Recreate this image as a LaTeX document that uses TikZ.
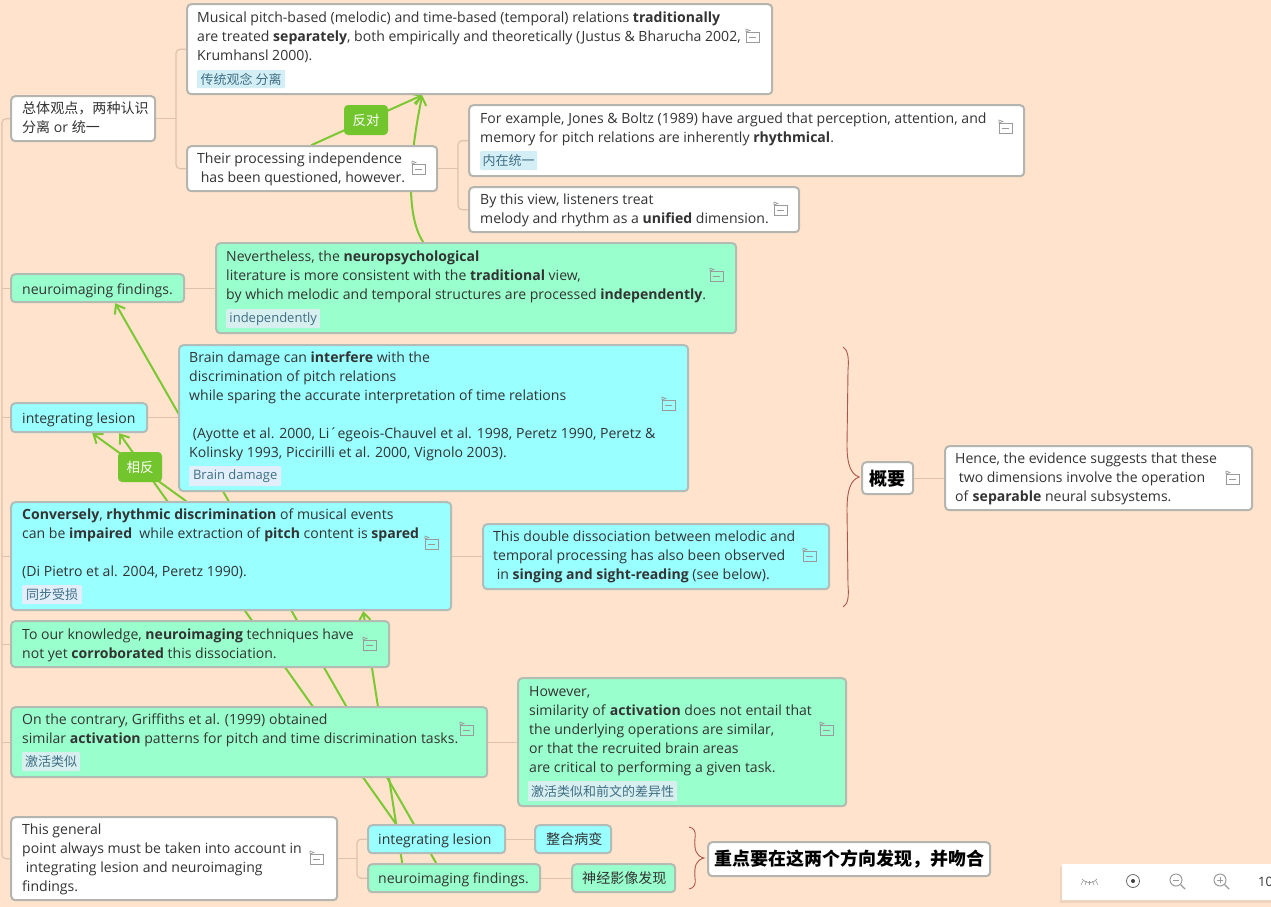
\documentclass[tikz,border=0pt]{standalone}
\usepackage{fontspec}
\setmainfont{Open Sans}
\newfontfamily\cjk{Noto Sans CJK SC}
\usetikzlibrary{backgrounds,arrows.meta,calc}
\definecolor{pagebg}{HTML}{FFE3CC}
\definecolor{wbox}{HTML}{FFFFFF}
\definecolor{gbox}{HTML}{99FFCC}
\definecolor{cbox}{HTML}{99FFFF}
\definecolor{edge}{HTML}{B5B5B0}
\definecolor{branchc}{HTML}{DDC3AF}
\definecolor{rel}{HTML}{7CC832}
\definecolor{relfill}{HTML}{72C52C}
\definecolor{ink}{HTML}{333333}
\definecolor{tagink}{HTML}{3F6F85}
\definecolor{tagw}{HTML}{D3EEF5}
\definecolor{tagg}{HTML}{D8EFEF}
\definecolor{tagc}{HTML}{E2EEFA}
\definecolor{bracec}{HTML}{A9584C}
\definecolor{icong}{HTML}{9A9A9A}
\newcommand\zh[1]{{\cjk #1}}
\tikzset{
  basebox/.style={draw=edge,line width=2pt,rounded corners=4pt,inner sep=0pt,anchor=north west},
  wnode/.style={basebox,fill=wbox},
  gnode/.style={basebox,fill=gbox,draw=edge!90!gbox},
  cnode/.style={basebox,fill=cbox,draw=edge!90!cbox},
  txt/.style={anchor=north west,inner sep=0pt,align=left,text=ink,font=\fontsize{14.05}{19}\selectfont},
  tagbox/.style={inner sep=0pt,anchor=north west,rounded corners=1pt,text=tagink,font=\fontsize{13}{16}\selectfont},
  relnode/.style={fill=relfill,rounded corners=4pt,inner sep=0pt,text=white,font=\fontsize{13.5}{16}\selectfont,minimum width=44pt,minimum height=30pt},
  branch/.style={draw=branchc,line width=1.2pt,rounded corners=4pt},
  relline/.style={draw=rel,line width=2pt},
  relarrow/.style={relline,-{Straight Barb[length=8pt,width=12pt,line width=2pt]}},
  bracepath/.style={draw=bracec,line width=0.9pt},
  noteicon/.pic={
    \draw[icong,line width=.6pt] (-6,-3) rectangle (7,7);
    \draw[icong,line width=.6pt] (-6,-3) -- (-6,-6) -- (-2,-4.5) -- (-6,-3);
    \draw[icong,line width=.7pt] (-3,2) -- (4,2);
  }
}
\newcommand\mbx[6]{%
  \pgfmathsetmacro\mw{#4-#2}\pgfmathsetmacro\mh{#5-#3}%
  \node[#6,minimum width=\mw pt,minimum height=\mh pt] (#1) at (#2-.8,#3-.8) {};}
\newcommand\tx[4]{\node[txt] (#1) at (#2,#3-8.5) {\strut #4};}
\newcommand\tg[7]{%
  \pgfmathsetmacro\mw{#4-#2}\pgfmathsetmacro\mh{#5-#3}%
  \node[tagbox,fill=#6,minimum width=\mw pt,minimum height=\mh pt] (#1) at (#2,#3) {#7};}
\begin{document}
\begin{tikzpicture}[x=1pt,y=-1pt]
\useasboundingbox (0,0) rectangle (1271,907);

% ---------- boxes ----------
\mbx{A}{187}{4}{772}{94}{wnode}
\tx{At}{197}{17}{Musical pitch-based (melodic) and time-based (temporal) relations \textbf{traditionally}\\ \strut are treated \textbf{separately}, both empirically and theoretically (Justus \& Bharucha 2002,\\ \strut Krumhansl 2000).}
\tg{Atag}{197}{70}{285}{88}{tagw}{\zh{传统观念 分离}}
\pic at (752,35) {noteicon};

\mbx{B}{11}{96}{155}{141}{wnode}
\tx{Bt}{22}{108}{\zh{总体观点，两种认识}\\ \strut \zh{分离} or \zh{统一}}

\mbx{C}{187}{146}{437}{191}{wnode}
\tx{Ct}{197}{158}{Their processing independence\\ \strut\ has been questioned, however.}
\pic at (418,167) {noteicon};

\mbx{D}{469}{105}{1024}{176}{wnode}
\tx{Dt}{480}{118}{For example, Jones \& Boltz (1989) have argued that perception, attention, and\\ \strut memory for pitch relations are inherently \textbf{rhythmical}.}
\tg{Dtag}{480}{151}{537}{170}{tagw}{\zh{内在统一}}
\pic at (1005,126) {noteicon};

\mbx{E}{469}{187}{799}{232}{wnode}
\tx{Et}{480}{199}{By this view, listeners treat\\ \strut melody and rhythm as a \textbf{unified} dimension.}
\pic at (780,208) {noteicon};

\mbx{F}{216}{243}{736}{333}{gnode}
\tx{Ft}{226}{256}{Nevertheless, the \textbf{neuropsychological}\\ \strut literature is more consistent with the \textbf{traditional} view,\\ \strut by which melodic and temporal structures are processed \textbf{independently}.}
\tg{Ftag}{226}{309}{320}{328}{tagg}{independently}
\pic at (716,274) {noteicon};

\mbx{G}{11}{274}{184}{302}{gnode}
\tx{Gt}{22}{289}{neuroimaging findings.}

\mbx{H}{179}{345}{688}{491}{cnode}
\tx{Ht}{189}{357}{Brain damage can \textbf{interfere} with the\\ \strut discrimination of pitch relations\\ \strut while sparing the accurate interpretation of time relations\\ \strut\\ \strut\ (Ayotte et al. 2000, Li´egeois-Chauvel et al. 1998, Peretz 1990, Peretz \&\\ \strut Kolinsky 1993, Piccirilli et al. 2000, Vignolo 2003).}
\tg{Htag}{189}{466}{281}{486}{tagc}{Brain damage}
\pic at (668,403) {noteicon};

\mbx{I}{11}{403}{147}{432}{cnode}
\tx{It}{22}{418}{integrating lesion}

\mbx{J}{11}{502}{451}{610}{cnode}
\tx{Jt}{22}{514}{\textbf{Conversely}, \textbf{rhythmic discrimination} of musical events\\ \strut can be \textbf{impaired}\ \ while extraction of \textbf{pitch} content is \textbf{spared}\\ \strut\\ \strut (Di Pietro et al. 2004, Peretz 1990).}
\tg{Jtag}{22}{585}{82}{604}{tagc}{\zh{同步受损}}
\pic at (431,542) {noteicon};

\mbx{K}{483}{524}{829}{589}{cnode}
\tx{Kt}{493}{536}{This double dissociation between melodic and\\ \strut temporal processing has also been observed\\ \strut\ in \textbf{singing and sight-reading} (see below).}
\pic at (809,554) {noteicon};

\mbx{L}{11}{621}{389}{667}{gnode}
\tx{Lt}{22}{634}{To our knowledge, \textbf{neuroimaging} techniques have\\ \strut not yet \textbf{corroborated} this dissociation.}
\pic at (369,643) {noteicon};

\mbx{M}{11}{707}{487}{777}{gnode}
\tx{Mt}{22}{719}{On the contrary, Griffiths et al. (1999) obtained\\ \strut similar \textbf{activation} patterns for pitch and time discrimination tasks.}
\tg{Mtag}{22}{752}{80}{771}{tagg}{\zh{激活类似}}
\pic at (466,728) {noteicon};

\mbx{N}{518}{678}{846}{806}{gnode}
\tx{Nt}{529}{691}{However,\\ \strut similarity of \textbf{activation} does not entail that\\ \strut the underlying operations are similar,\\ \strut or that the recruited brain areas\\ \strut are critical to performing a given task.}
\tg{Ntag}{528}{781}{677}{801}{tagg}{\zh{激活类似和前文的差异性}}
\pic at (826,728) {noteicon};

\mbx{O}{11}{817}{337}{900}{wnode}
\tx{Ot}{22}{829}{This general\\ \strut point always must be taken into account in\\ \strut\ integrating lesion and neuroimaging\\ \strut findings.}
\pic at (316,857) {noteicon};

\mbx{P}{368}{825}{505}{853}{cnode}
\tx{Pt}{378}{839}{integrating lesion}
\mbx{Q}{535}{825}{611}{853}{cnode}
\tx{Qt}{546}{839}{\zh{整合病变}}
\mbx{R}{368}{864}{540}{892}{gnode}
\tx{Rt}{378}{878}{neuroimaging findings.}
\mbx{S}{572}{864}{675}{892}{gnode}
\tx{St}{582}{878}{\zh{神经影像发现}}

\mbx{T}{708}{842}{990}{876}{wnode}
\node[anchor=center,inner sep=0pt,text=black,font=\fontsize{18}{22}\selectfont\cjk\bfseries] (Tt) at (T.center) {重点要在这两个方向发现，并吻合};
\mbx{U}{862}{462}{913}{494}{wnode}
\node[anchor=center,inner sep=0pt,text=black,font=\fontsize{18}{22}\selectfont\cjk\bfseries] (Ut) at (U.center) {概要};

\mbx{V}{945}{446}{1252}{510}{wnode}
\tx{Vt}{955}{458}{Hence, the evidence suggests that these\\ \strut\ two dimensions involve the operation\\ \strut of \textbf{separable} neural subsystems.}
\pic at (1232,477) {noteicon};

% ---------- relationship labels ----------
\node[relnode] (opp) at (366,120) {\zh{反对}};
\node[relnode] (rev) at (140,467) {\zh{相反}};

% ---------- toolbar ----------
\fill[pagebg!88!black,opacity=.5] (1060,867) rectangle (1271,903);
\fill[white] (1062,864) rectangle (1271,900);
\draw[icong,line width=.7pt] (1082,879) .. controls (1087,884) and (1092,884) .. (1097,879);
\foreach \a/\b in {1083/1081,1086.5/1085,1089.5/1089.5,1092.5/1094,1096/1098}
  \draw[icong,line width=.6pt] (\a,881) -- (\b,885);
\draw[black!60,line width=.8pt] (1133,881) circle (6.5);
\fill[black!75] (1133,881) circle (2);
\draw[icong,line width=1pt] (1176,880) circle (6);
\draw[icong,line width=1pt] (1173,880) -- (1179,880);
\draw[icong,line width=1.4pt] (1180.5,884.5) -- (1185,889);
\draw[icong,line width=1pt] (1220,880) circle (6);
\draw[icong,line width=1pt] (1217,880) -- (1223,880) (1220,877) -- (1220,883);
\draw[icong,line width=1.4pt] (1224.5,884.5) -- (1229,889);
\node[anchor=west,inner sep=0pt,text=ink,font=\fontsize{13}{16}\selectfont] (zoomv) at (1258,882) {10};

% ---------- braces ----------
\draw[bracepath] (843,347) .. controls (848,350) and (849,358) .. (848,370) -- (847,445) .. controls (847,465) and (851,474) .. (859,477) .. controls (851,480) and (847,489) .. (847,510) -- (848,585) .. controls (849,597) and (848,604) .. (843,607);
\draw[bracepath] (689,827) .. controls (694,828) and (696,831) .. (695,838) .. controls (694,850) and (696,856) .. (704,858) .. controls (696,860) and (694,866) .. (695,878) .. controls (696,885) and (694,888) .. (689,889);

% ---------- connectors (under the boxes) ----------
\begin{pgfonlayer}{background}
\fill[pagebg] (0,0) rectangle (1271,907);
\coordinate (trunk) at (2,118);
\coordinate (jb) at (176,118);
\coordinate (jc) at (458,168);
\coordinate (jo) at (357,857);
\draw[branch] (B.west) -- (trunk |- B.west) -- (trunk |- O.west) -- (O.west);
\foreach \n in {G,I,J,L,M} \draw[branch] (\n.west) -- (trunk |- \n.west);
\draw[branch] (B.east) -- (jb |- B.east);
\draw[branch] (A.west) -| (jb) |- (C.west);
\draw[branch] (C.east) -- (jc |- C.east);
\draw[branch] (D.west) -| (jc) |- (E.west);
\draw[branch] (G.east) -- (F.west |- G.east);
\draw[branch] (I.east) -- (H.west |- I.east);
\draw[branch] (J.east) -- (K.west |- J.east);
\draw[branch] (M.east) -- (N.west |- M.east);
\draw[branch] (O.east) -- (jo |- O.east);
\draw[branch] (P.west) -| (jo) |- (R.west);
\draw[branch] (P.east) -- (Q.west);
\draw[branch] (R.east) -- (S.west);
\draw[branch] (U.east) -- (V.west |- U.east);
% relationships
\draw[relarrow] ([xshift=125pt]C.north west) -- ([xshift=236pt]A.south west);
\draw[relarrow] ([xshift=208pt]F.north west) .. controls ([xshift=190pt,yshift=28pt]F.north west) and ([xshift=194pt,yshift=83pt]F.north west) .. ([xshift=236pt]A.south west);
\draw[relarrow] ([xshift=69pt]R.north west) -- ([xshift=105pt]G.south west);
\draw[relarrow] ([xshift=29pt]P.north west) -- ([xshift=109pt]I.south west);
\draw[relarrow] ([xshift=176pt]J.north west) -- ([xshift=82pt]I.south west);
\draw[relarrow] ([xshift=35pt]R.north west) -- ([xshift=353pt]J.south west);
\end{pgfonlayer}
\end{tikzpicture}
\end{document}
